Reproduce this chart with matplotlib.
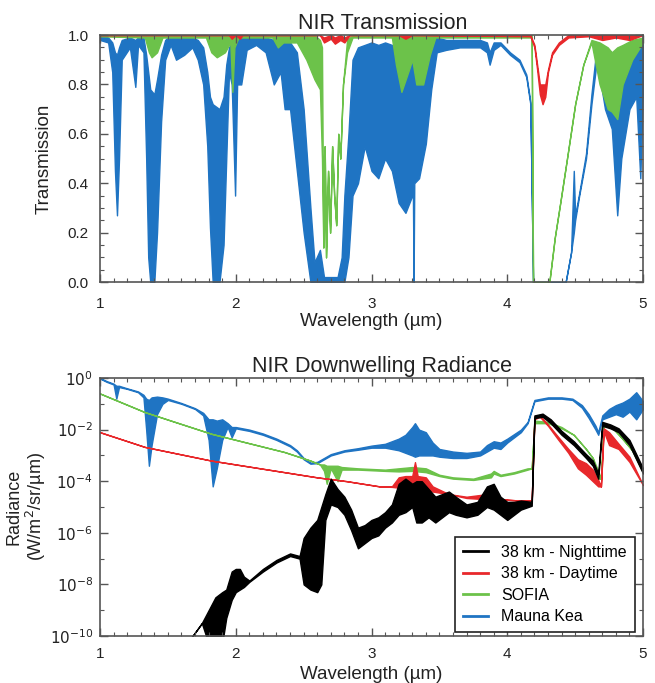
import numpy as np
import matplotlib
matplotlib.use('Agg')
import matplotlib.pyplot as plt
from matplotlib.ticker import FixedLocator, MultipleLocator

plt.rcParams['font.family'] = ['Liberation Sans', 'DejaVu Sans']

# ---- NIR transmission ----
mk_t_wl = [1.00, 1.06, 1.09, 1.11, 1.125, 1.14, 1.16, 1.22, 1.26, 1.28, 1.32, 1.34, 1.355, 1.37,
           1.40, 1.42, 1.45, 1.48, 1.52, 1.56, 1.62, 1.68, 1.72, 1.76, 1.79, 1.81, 1.83, 1.88,
           1.91, 1.93, 1.95, 1.97, 1.995, 2.01, 2.04, 2.08, 2.15, 2.22, 2.28, 2.33, 2.36, 2.40,
           2.45, 2.50, 2.55, 2.58, 2.62, 2.65, 2.75, 2.78, 2.80, 2.83, 2.86, 2.90, 2.95, 3.00,
           3.05, 3.10, 3.15, 3.20, 3.25, 3.30, 3.305, 3.31, 3.315, 3.35, 3.40, 3.44, 3.48, 3.55,
           3.65, 3.80, 3.85, 3.87, 3.90, 3.95, 4.02, 4.09, 4.14, 4.17, 4.19, 4.43, 4.47, 4.49,
           4.50, 4.53, 4.58, 4.62, 4.66, 4.72, 4.77, 4.81, 4.84, 4.90, 4.95, 4.98, 5.00]
mk_t_lo = [0.98, 0.97, 0.85, 0.45, 0.27, 0.50, 0.90, 0.95, 0.79, 0.96, 0.93, 0.50, 0.10, 0.00,
           0.00, 0.20, 0.65, 0.90, 0.96, 0.90, 0.92, 0.95, 0.90, 0.80, 0.55, 0.22, 0.00, 0.00,
           0.15, 0.50, 0.85, 0.80, 0.35, 0.80, 0.80, 0.94, 0.96, 0.93, 0.80, 0.85, 0.70, 0.70,
           0.45, 0.20, 0.00, 0.00, 0.00, 0.00, 0.00, 0.00, 0.00, 0.10, 0.35, 0.40, 0.55, 0.45,
           0.42, 0.50, 0.45, 0.32, 0.28, 0.35, 0.35, 0.00, 0.40, 0.42, 0.56, 0.78, 0.93, 0.94,
           0.95, 0.95, 0.93, 0.88, 0.94, 0.96, 0.92, 0.89, 0.83, 0.72, 0.00, 0.00, 0.12, 0.20,
           0.25, 0.35, 0.50, 0.72, 0.90, 0.70, 0.62, 0.27, 0.50, 0.70, 0.75, 0.42, 0.80]
mk_t_hi = [1.00, 0.99, 0.97, 0.93, 0.92, 0.95, 0.98, 0.99, 0.98, 0.99, 0.99, 0.92, 0.85, 0.78,
           0.76, 0.82, 0.92, 0.98, 1.00, 0.99, 0.99, 0.99, 0.98, 0.95, 0.85, 0.75, 0.72, 0.70,
           0.75, 0.88, 0.95, 0.97, 0.97, 0.98, 0.99, 0.99, 1.00, 0.99, 0.98, 0.98, 0.97, 0.97,
           0.93, 0.70, 0.30, 0.08, 0.13, 0.02, 0.02, 0.10, 0.35, 0.60, 0.90, 0.95, 0.96, 0.97,
           0.96, 0.97, 0.96, 0.94, 0.90, 0.90, 0.90, 0.90, 0.90, 0.92, 0.95, 0.97, 0.99, 0.98,
           0.98, 0.98, 0.97, 0.93, 0.97, 0.97, 0.93, 0.90, 0.84, 0.73, 0.00, 0.00, 0.12, 0.45,
           0.27, 0.36, 0.52, 0.76, 0.96, 0.95, 0.93, 0.90, 0.92, 0.95, 0.96, 0.97, 0.97]

sofia_t_wl = [1.00, 1.33, 1.36, 1.38, 1.42, 1.46, 1.78, 1.82, 1.86, 1.92, 1.96, 1.975, 1.99,
              2.02, 2.27, 2.31, 2.35, 2.45, 2.52, 2.58, 2.62, 2.635, 2.645, 2.655, 2.665, 2.68,
              2.695, 2.71, 2.725, 2.74, 2.755, 2.77, 2.79, 2.82, 2.86, 2.88, 3.15, 3.18, 3.22,
              3.27, 3.30, 3.33, 3.38, 3.43, 3.47, 4.18, 4.19, 4.31, 4.35, 4.39, 4.44, 4.50,
              4.56, 4.62, 4.68, 4.74, 4.77, 4.81, 4.85, 4.92, 5.00]
sofia_t_lo = [0.995, 0.99, 0.93, 0.91, 0.93, 0.99, 0.99, 0.93, 0.91, 0.93, 0.97, 0.77, 0.95,
              0.99, 0.99, 0.95, 0.97, 0.97, 0.90, 0.82, 0.78, 0.50, 0.14, 0.55, 0.10, 0.45,
              0.20, 0.55, 0.35, 0.23, 0.60, 0.50, 0.80, 0.93, 0.99, 0.99, 0.99, 0.88, 0.77,
              0.85, 0.90, 0.80, 0.80, 0.92, 0.99, 0.99, 0.00, 0.00, 0.18, 0.32, 0.50, 0.72,
              0.88, 0.97, 0.80, 0.70, 0.69, 0.66, 0.80, 0.90, 0.97]
sofia_t_hi = [1.00, 1.00, 1.00, 1.00, 1.00, 1.00, 1.00, 1.00, 1.00, 1.00, 1.00, 1.00, 1.00,
              1.00, 1.00, 1.00, 1.00, 1.00, 1.00, 1.00, 0.98, 0.95, 0.14, 0.55, 0.10, 0.45,
              0.20, 0.55, 0.35, 0.23, 0.60, 0.50, 0.80, 0.98, 1.00, 1.00, 1.00, 1.00, 1.00,
              1.00, 1.00, 1.00, 1.00, 1.00, 1.00, 1.00, 0.00, 0.00, 0.18, 0.32, 0.50, 0.72,
              0.88, 0.98, 0.97, 0.95, 0.93, 0.95, 0.96, 0.98, 0.99]

day_t_wl = [1.00, 1.95, 1.97, 2.00, 2.03, 2.05, 2.62, 2.65, 2.70, 2.73, 2.77, 2.80, 2.84, 3.20,
            3.25, 3.30, 4.17, 4.20, 4.22, 4.24, 4.26, 4.28, 4.30, 4.33, 4.38, 4.45, 4.60, 4.70,
            4.80, 4.90, 5.00]
day_t_lo = [1.00, 1.00, 0.985, 1.00, 0.985, 1.00, 1.00, 0.97, 0.985, 0.965, 0.98, 0.97, 1.00,
            1.00, 0.985, 1.00, 0.995, 0.95, 0.86, 0.76, 0.72, 0.75, 0.85, 0.92, 0.96, 0.99,
            0.995, 0.98, 0.99, 0.98, 1.00]
day_t_hi = [1.00, 1.00, 1.00, 1.00, 1.00, 1.00, 1.00, 0.99, 1.00, 0.99, 1.00, 0.99, 1.00,
            1.00, 1.00, 1.00, 1.00, 0.96, 0.88, 0.80, 0.80, 0.80, 0.86, 0.93, 0.97, 1.00,
            1.00, 1.00, 1.00, 1.00, 1.00]

# ---- NIR downwelling radiance, log10(W/m2/sr/um) ----
mk_r_wl = [1.00, 1.05, 1.10, 1.12, 1.14, 1.20, 1.28, 1.32, 1.34, 1.36, 1.38, 1.42, 1.46, 1.50,
           1.60, 1.70, 1.76, 1.80, 1.83, 1.86, 1.90, 1.94, 1.97, 2.00, 2.10, 2.20, 2.30, 2.40,
           2.45, 2.50, 2.55, 2.60, 2.65, 2.70, 2.80, 2.90, 3.00, 3.10, 3.20, 3.25, 3.30, 3.32,
           3.35, 3.40, 3.45, 3.50, 3.60, 3.70, 3.80, 3.85, 3.90, 3.95, 4.00, 4.10, 4.15, 4.20,
           4.30, 4.40, 4.48, 4.55, 4.60, 4.65, 4.67, 4.70, 4.75, 4.80, 4.85, 4.90, 4.95, 5.00]
mk_r_lo = [-0.02, -0.15, -0.25, -0.80, -0.35, -0.42, -0.55, -0.75, -2.00, -3.40, -2.60, -1.40,
           -1.00, -0.85, -1.00, -1.20, -1.45, -2.40, -4.20, -3.50, -2.40, -1.90, -2.30, -1.95,
           -2.05, -2.20, -2.40, -2.65, -2.85, -3.15, -3.32, -3.30, -3.15, -3.00, -2.85, -2.78,
           -2.70, -2.70, -2.80, -2.90, -3.00, -3.05, -3.00, -3.00, -3.00, -3.05, -3.10, -3.10,
           -3.00, -2.85, -2.70, -2.75, -2.50, -2.10, -1.75, -0.90, -0.80, -0.80, -0.85, -1.15,
           -1.55, -2.00, -2.20, -1.60, -1.50, -1.40, -1.50, -1.30, -1.60, -1.20]
mk_r_hi = [0.00, -0.12, -0.22, -0.30, -0.30, -0.40, -0.52, -0.65, -0.80, -0.85, -0.75, -0.72,
           -0.75, -0.80, -0.97, -1.17, -1.35, -1.60, -1.60, -1.65, -1.60, -1.75, -1.90, -1.90,
           -2.00, -2.15, -2.35, -2.60, -2.80, -3.10, -3.28, -3.25, -3.10, -2.95, -2.80, -2.72,
           -2.62, -2.55, -2.35, -2.20, -1.90, -1.75, -2.00, -2.10, -2.50, -2.75, -2.85, -2.90,
           -2.85, -2.60, -2.45, -2.50, -2.35, -2.00, -1.70, -0.85, -0.75, -0.75, -0.80, -1.05,
           -1.40, -1.85, -2.10, -1.45, -1.20, -1.05, -0.95, -0.80, -0.55, -0.90]

sofia_r_wl = [1.00, 1.33, 1.82, 2.36, 2.55, 2.62, 2.65, 2.67, 2.70, 2.75, 2.78, 2.90, 3.10, 3.20,
              3.30, 3.40, 3.50, 3.60, 3.75, 3.88, 3.90, 3.95, 4.05, 4.15, 4.18, 4.20, 4.30,
              4.40, 4.49, 4.58, 4.63, 4.67, 4.69, 4.71, 4.76, 4.84, 4.92, 5.00]
sofia_r_lo = [-0.60, -1.32, -2.16, -2.87, -3.20, -3.35, -3.60, -4.10, -3.50, -4.00, -3.55, -3.55,
              -3.60, -3.62, -3.60, -3.65, -3.80, -3.90, -3.95, -3.85, -3.70, -3.80, -3.70, -3.55,
              -3.50, -1.75, -1.75, -1.95, -2.20, -2.75, -3.10, -3.90, -3.90, -1.85, -1.85, -2.30,
              -2.80, -3.65]
sofia_r_hi = [-0.60, -1.32, -2.16, -2.87, -3.20, -3.35, -3.35, -3.40, -3.40, -3.40, -3.45, -3.50,
              -3.55, -3.50, -3.45, -3.50, -3.75, -3.85, -3.90, -3.70, -3.60, -3.75, -3.65, -3.50,
              -3.50, -1.65, -1.70, -1.90, -2.20, -2.75, -3.10, -3.60, -3.90, -1.85, -1.85, -2.30,
              -2.80, -3.65]

day_r_wl = [1.00, 1.33, 1.82, 2.36, 2.60, 2.82, 3.06, 3.15, 3.20, 3.25, 3.30, 3.32, 3.34, 3.40,
            3.45, 3.57, 3.70, 3.85, 3.95, 4.10, 4.18, 4.20, 4.24, 4.30, 4.37, 4.45, 4.52, 4.58,
            4.63, 4.67, 4.69, 4.71, 4.75, 4.82, 4.90, 5.00]
day_r_lo = [-2.10, -2.67, -3.20, -3.65, -3.85, -4.00, -4.20, -4.22, -4.25, -4.20, -4.10, -4.00,
            -4.10, -4.30, -4.40, -4.50, -4.65, -4.70, -4.70, -4.75, -4.75, -1.60, -1.50, -1.85,
            -2.35, -2.90, -3.50, -3.75, -4.00, -4.20, -4.20, -2.05, -2.60, -2.75, -3.25, -4.15]
day_r_hi = [-2.10, -2.67, -3.20, -3.65, -3.85, -4.00, -4.20, -4.20, -3.85, -3.80, -3.80, -3.26,
            -3.80, -3.85, -4.20, -4.50, -4.60, -4.50, -4.70, -4.75, -4.75, -1.50, -1.45, -1.80,
            -2.25, -2.75, -3.15, -3.30, -3.55, -3.95, -4.20, -1.95, -2.10, -2.55, -3.05, -4.15]

night_r_wl = [1.64, 1.75, 1.80, 1.85, 1.90, 1.93, 1.97, 2.00, 2.03, 2.06, 2.10, 2.20, 2.30, 2.40,
              2.47, 2.50, 2.55, 2.60, 2.63, 2.66, 2.70, 2.75, 2.80, 2.85, 2.90, 2.95, 3.00, 3.05,
              3.10, 3.15, 3.20, 3.25, 3.30, 3.33, 3.37, 3.42, 3.47, 3.52, 3.57, 3.62, 3.70, 3.78,
              3.85, 3.90, 3.95, 4.00, 4.05, 4.10, 4.18, 4.20, 4.26, 4.32, 4.40, 4.49, 4.58, 4.63,
              4.67, 4.70, 4.76, 4.82, 4.90, 5.00]
night_r_lo = [-10.3, -9.5, -10.3, -10.3, -10.3, -9.3, -8.6, -8.3, -8.2, -8.1, -7.9, -7.5, -7.15,
              -6.9, -7.0, -8.0, -8.2, -8.3, -8.0, -5.5, -4.9, -5.0, -5.3, -5.9, -6.6, -6.4, -6.2,
              -6.1, -5.8, -5.6, -5.3, -5.2, -5.0, -5.6, -5.6, -5.4, -5.6, -5.4, -5.2, -5.3, -5.4,
              -5.3, -5.0, -5.1, -5.3, -5.5, -5.3, -5.1, -4.95, -1.55, -1.50, -1.75, -2.20, -2.60,
              -3.10, -3.40, -3.90, -1.85, -1.95, -2.10, -2.60, -3.70]
night_r_hi = [-10.3, -9.5, -9.0, -8.5, -8.3, -8.2, -7.5, -7.4, -7.4, -7.7, -7.85, -7.4, -7.05,
              -6.8, -6.9, -6.2, -5.8, -5.5, -5.0, -4.5, -3.9, -4.3, -4.6, -5.1, -5.8, -5.7, -5.5,
              -5.4, -5.2, -4.9, -4.1, -3.9, -4.1, -4.0, -4.0, -4.3, -4.6, -4.5, -4.4, -4.6, -4.9,
              -4.8, -4.2, -4.1, -4.6, -4.8, -4.8, -4.75, -4.8, -1.45, -1.38, -1.60, -2.05, -2.45,
              -2.95, -3.20, -3.70, -1.70, -1.80, -1.95, -2.40, -3.50]

c_mk = '#1f74c3'
c_sofia = '#6cc24a'
c_day = '#e8282b'
c_night = 'black'
c_axis = '#555555'
c_text = '#222222'


def style(ax, xpad, ypad):
    for s in ax.spines.values():
        s.set_color(c_axis)
        s.set_linewidth(1.2)
    ax.tick_params(which='both', direction='in', top=True, right=True, color=c_axis,
                   labelsize=11, labelcolor=c_text)
    ax.tick_params(which='major', length=6, width=1)
    ax.tick_params(which='minor', length=3, width=0.8)
    ax.tick_params(axis='x', which='major', pad=xpad)
    ax.tick_params(axis='y', which='major', pad=ypad)
    ax.set_xlim(1, 5)
    ax.xaxis.set_major_locator(MultipleLocator(1))
    ax.xaxis.set_minor_locator(MultipleLocator(0.1))


fig = plt.figure(figsize=(6.55, 6.83), dpi=100)

# transmission panel
ax1 = fig.add_axes([0.1527, 0.5871, 0.829, 0.3616])
ax1.fill_between(mk_t_wl, mk_t_lo, mk_t_hi, color=c_mk, lw=1.0)
ax1.fill_between(sofia_t_wl, sofia_t_lo, sofia_t_hi, color=c_sofia, lw=1.0)
ax1.fill_between(day_t_wl, day_t_lo, day_t_hi, color=c_day, lw=1.0)
ax1.set_ylim(0, 1)
ax1.yaxis.set_major_locator(MultipleLocator(0.2))
ax1.yaxis.set_minor_locator(MultipleLocator(0.05))
ax1.yaxis.set_major_formatter(matplotlib.ticker.FormatStrFormatter('%.1f'))
style(ax1, 10.5, 8)
ax1.set_xlabel('Wavelength (µm)', fontsize=13.5, color=c_text, labelpad=1.5)
ax1.set_ylabel('Transmission', fontsize=13.5, color=c_text)
ax1.yaxis.set_label_coords(-0.087, 0.5)
ax1.set_title('NIR Transmission', fontsize=15.5, color=c_text, pad=4, x=0.52)

# radiance panel
ax2 = fig.add_axes([0.1527, 0.0688, 0.829, 0.3777])
ax2.set_yscale('log')
ax2.fill_between(mk_r_wl, 10.0 ** np.array(mk_r_lo), 10.0 ** np.array(mk_r_hi), color=c_mk, lw=1.0)
ax2.fill_between(sofia_r_wl, 10.0 ** np.array(sofia_r_lo), 10.0 ** np.array(sofia_r_hi),
                 color=c_sofia, lw=1.0)
ax2.fill_between(day_r_wl, 10.0 ** np.array(day_r_lo), 10.0 ** np.array(day_r_hi), color=c_day, lw=1.0)
ax2.fill_between(night_r_wl, 10.0 ** np.array(night_r_lo), 10.0 ** np.array(night_r_hi),
                 color=c_night, lw=1.0)
ax2.set_ylim(1e-10, 1)
ax2.yaxis.set_major_locator(FixedLocator([1e-10, 1e-8, 1e-6, 1e-4, 1e-2, 1e0]))
ax2.yaxis.set_minor_locator(FixedLocator([1e-9, 1e-7, 1e-5, 1e-3, 1e-1]))
ax2.yaxis.set_minor_formatter(matplotlib.ticker.NullFormatter())
ax2.yaxis.set_major_formatter(matplotlib.ticker.FuncFormatter(
    lambda v, p: r'$10^{%d}$' % round(np.log10(v))))
style(ax2, 8, 5)
ax2.set_xlabel('Wavelength (µm)', fontsize=13.5, color=c_text, labelpad=3.5)
ax2.set_ylabel('Radiance\n(W/m$^2$/sr/µm)', fontsize=13, color=c_text, linespacing=1.05)
ax2.yaxis.set_label_coords(-0.096, 0.5)
ax2.set_title('NIR Downwelling Radiance', fontsize=15.5, color=c_text, pad=4, x=0.52)

handles = [plt.Line2D([], [], color=c, lw=2) for c in (c_night, c_day, c_sofia, c_mk)]
leg = ax2.legend(handles, ['38 km - Nighttime', '38 km - Daytime', 'SOFIA', 'Mauna Kea'],
                 loc='lower right', bbox_to_anchor=(0.985, 0.015), borderaxespad=0,
                 fontsize=11.5, fancybox=False, framealpha=1, handlelength=1.6,
                 labelspacing=0.4, borderpad=0.5, handletextpad=0.8)
leg.get_frame().set_edgecolor(c_text)
leg.get_frame().set_linewidth(1.2)

fig.savefig('out.png', dpi=100)
